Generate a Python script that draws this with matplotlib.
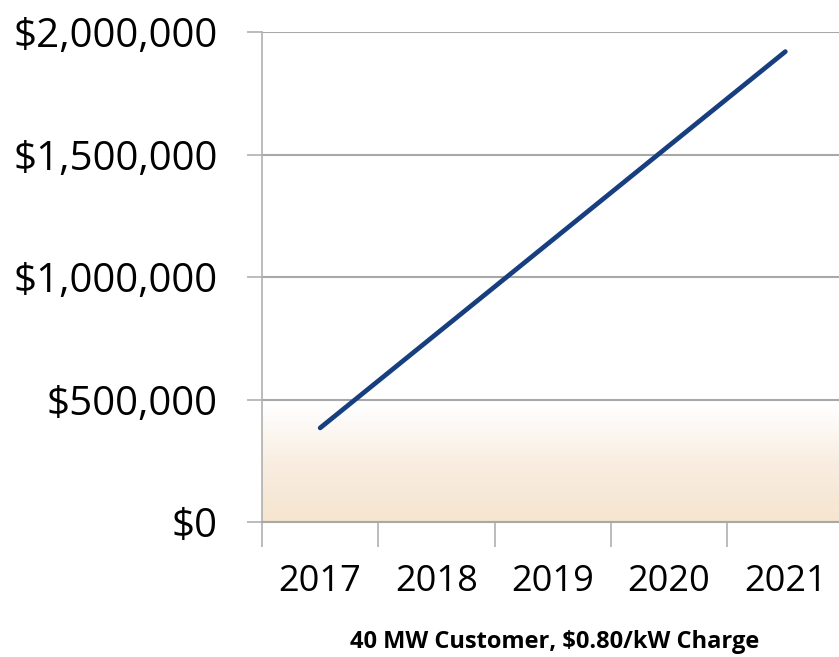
import matplotlib
matplotlib.use("Agg")
import matplotlib.pyplot as plt
import numpy as np
from matplotlib.colors import LinearSegmentedColormap
from matplotlib.ticker import FuncFormatter

years = ["2017", "2018", "2019", "2020", "2021"]
values = [384000, 768000, 1152000, 1536000, 1920000]
yticks = [0, 500000, 1000000, 1500000, 2000000]
caption = "40 MW Customer, $0.80/kW Charge"

plt.rcParams['font.family'] = ['Open Sans', 'DejaVu Sans']

fig = plt.figure(figsize=(8.39, 6.57), dpi=100)
ax = fig.add_axes([262/839, 1-522/657, 581.5/839, 490/657])

x = np.arange(len(years))
ax.set_xlim(-0.5, len(years) - 0.5)
ax.set_ylim(0, 2000000)

# gradient band at bottom
cmap = LinearSegmentedColormap.from_list("band", ["#f6e5cf", "#f8ede0", "#ffffff"])
grad = np.linspace(0, 1, 256).reshape(-1, 1)
ax.imshow(grad, extent=(-0.5, len(years) - 0.5, 0, 470000), origin="lower",
          cmap=cmap, aspect="auto", zorder=0)

ax.set_yticks(yticks)
ax.yaxis.set_major_formatter(FuncFormatter(lambda v, p: "${:,.0f}".format(v)))
ax.grid(axis="y", color="#a8a8a8", linewidth=1.5, zorder=1)
ax.set_axisbelow(True)

ax.plot(x, values, color="#173f80", linewidth=3.4, solid_capstyle="round", zorder=3)

ax.set_xticks(x)
ax.set_xticklabels(years)
ax.set_xticks(np.arange(-0.5, len(years), 1.0), minor=True)
ax.tick_params(axis="x", which="major", length=0, pad=30, labelsize=26)
ax.tick_params(axis="x", which="minor", length=18, width=1.2, color="#b0b0b0")
ax.tick_params(axis="y", length=11, width=1.2, color="#b0b0b0", pad=21, labelsize=29)

for s in ["top", "right"]:
    ax.spines[s].set_visible(False)
ax.spines["left"].set_color("#b0b0b0")
ax.spines["left"].set_linewidth(1.2)
ax.spines["bottom"].set_color("#a8a8a8")
ax.spines["bottom"].set_linewidth(1.5)

fig.text(555/839, 1-642/657, caption, ha="center", va="center",
         fontsize=17, fontweight="bold")

fig.savefig("out.png", dpi=100)
